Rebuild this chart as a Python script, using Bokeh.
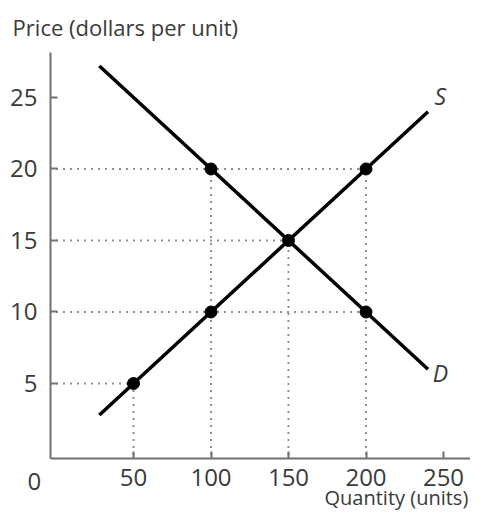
from bokeh.plotting import figure
from bokeh.models import FixedTicker, Label, Range1d
from bokeh.embed import file_html
from bokeh.resources import INLINE

# data
supply_q = [28, 240]
supply_p = [2.8, 24.0]
demand_q = [28, 240]
demand_p = [27.2, 6.0]
point_q = [50, 100, 150, 200, 100, 200]
point_p = [5, 10, 15, 20, 20, 10]
x_ticks = [50, 100, 150, 200, 250]
y_ticks = [5, 10, 15, 20, 25]

FONT = "Open Sans"
TXT = "#3a3a3a"

X0, X1 = -3.55, 267.4   # axis extents
Y0, Y1 = -0.245, 28.15

p = figure(width=470, height=511, output_backend="svg", toolbar_location=None,
           x_range=Range1d(-35.81, 267.42), y_range=Range1d(-3.95, 31.78),
           min_border=0)
p.outline_line_color = None
p.xgrid.visible = False
p.ygrid.visible = False

for ax in (p.xaxis[0], p.yaxis[0]):
    ax.axis_line_color = "#707070"
    ax.axis_line_width = 2
    ax.major_tick_line_color = "#707070"
    ax.major_tick_line_width = 2
    ax.major_tick_in = 7
    ax.major_tick_out = 0
    ax.minor_tick_line_color = None
    ax.major_label_text_font = FONT
    ax.major_label_text_font_size = "24px"
    ax.major_label_text_color = TXT
p.xaxis.ticker = FixedTicker(ticks=x_ticks)
p.yaxis.ticker = FixedTicker(ticks=y_ticks)
p.xaxis.fixed_location = Y0
p.yaxis.fixed_location = X0
p.xaxis.bounds = (X0, X1)
p.yaxis.bounds = (Y0, Y1)
p.xaxis.major_label_standoff = 10
p.yaxis.major_label_standoff = 13

# dotted guide lines
for q, pr in zip(point_q, point_p):
    p.line([0, q], [pr, pr], line_color="#909090", line_width=2, line_dash="2 5")
    p.line([q, q], [0, pr], line_color="#909090", line_width=2, line_dash="2 5")

p.line(demand_q, demand_p, line_color="black", line_width=3.5)
p.line(supply_q, supply_p, line_color="black", line_width=3.5)
p.scatter(point_q, point_p, size=12, color="black")

p.add_layout(Label(x=248, y=25.1, text="S", text_font=FONT, text_font_style="italic",
                   text_font_size="23px", text_color=TXT, text_align="center", text_baseline="middle"))
p.add_layout(Label(x=248, y=5.7, text="D", text_font=FONT, text_font_style="italic",
                   text_font_size="23px", text_color=TXT, text_align="center", text_baseline="middle"))
p.add_layout(Label(x=-14.0, y=-1.85, text="0", text_font=FONT,
                   text_font_size="24px", text_color=TXT, text_align="center", text_baseline="middle"))
p.add_layout(Label(x=-28, y=29.9, text="Price (dollars per unit)", text_font=FONT,
                   text_font_size="22px", text_color=TXT, text_align="left", text_baseline="middle"))
p.add_layout(Label(x=266.0, y=-2.95, text="Quantity (units)", text_font=FONT,
                   text_font_size="20px", text_color=TXT, text_align="right", text_baseline="middle"))

open("out.html", "w").write(file_html(p, INLINE))
